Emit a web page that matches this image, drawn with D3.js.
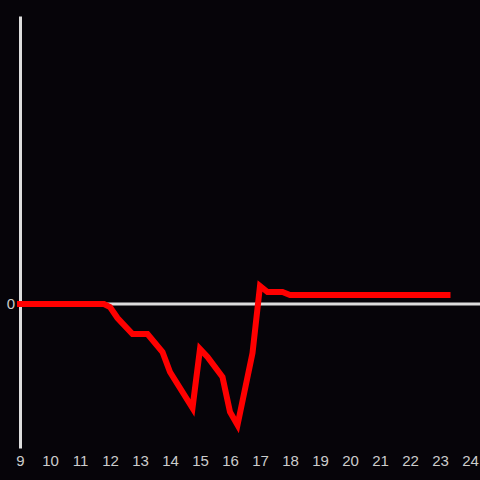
<!DOCTYPE html>
<html>
<head>
<meta charset="utf-8">
<script src="https://cdn.jsdelivr.net/npm/d3@7"></script>
<style>
  html, body { margin: 0; padding: 0; background: #060409; }
  svg { display: block; }
</style>
</head>
<body>
<div id="chart"></div>
<script>
var width = 480;
var height = 480;

// hour of day and value (vertices of the line)
var hours  = [9, 11.8, 12, 12.25, 12.75, 13.25, 13.75, 14, 14.75, 15, 15.25, 15.75, 16, 16.25, 16.75, 17, 17.25, 17.75, 18, 23.25];
var values = [0, 0, -3, -14, -30, -30, -48, -68, -104, -45, -53, -73, -108, -121, -49, 18, 12, 12, 9, 9];
var xTicks = [9, 10, 11, 12, 13, 14, 15, 16, 17, 18, 19, 20, 21, 22, 23, 24];
var yTicks = [0];

var data = hours.map(function(h, i) { return {h: h, v: values[i]}; });

var svg = d3.select("#chart")
    .append("svg")
    .attr("width", width)
    .attr("height", height)
    .attr("font-family", "'Liberation Sans', Arial, sans-serif");

svg.append("rect")
    .attr("width", width)
    .attr("height", height)
    .attr("fill", "#060409");

var x = d3.scaleLinear().domain([9, 24]).range([20, 470]);
var y = d3.scaleLinear().domain([-144, 288]).range([448, 16]);

// zero line
svg.append("line")
    .attr("x1", x(9))
    .attr("x2", width)
    .attr("y1", y(0))
    .attr("y2", y(0))
    .attr("stroke", "#dddddd")
    .attr("stroke-width", 3);

// y axis
var yAxis = svg.append("g")
    .attr("transform", "translate(" + x(9) + ",0)")
    .call(d3.axisLeft(y).tickValues(yTicks).tickSize(0).tickSizeOuter(0).tickPadding(5));
yAxis.select(".domain").attr("stroke", "#dddddd").attr("stroke-width", 3);
yAxis.selectAll("text").attr("fill", "#cccccc").attr("font-size", 15);

// x axis labels
var xAxis = svg.append("g")
    .attr("transform", "translate(0," + y.range()[0] + ")")
    .call(d3.axisBottom(x).tickValues(xTicks).tickSize(0).tickPadding(7));
xAxis.select(".domain").remove();
xAxis.selectAll("text").attr("fill", "#cccccc").attr("font-size", 15);

var line = d3.line()
    .x(function(d) { return x(d.h); })
    .y(function(d) { return y(d.v); });

svg.append("path")
    .datum(data)
    .attr("d", line)
    .attr("fill", "none")
    .attr("stroke", "#ff0000")
    .attr("stroke-width", 6)
    .attr("stroke-linecap", "square")
    .attr("stroke-linejoin", "miter");
</script>
</body>
</html>
